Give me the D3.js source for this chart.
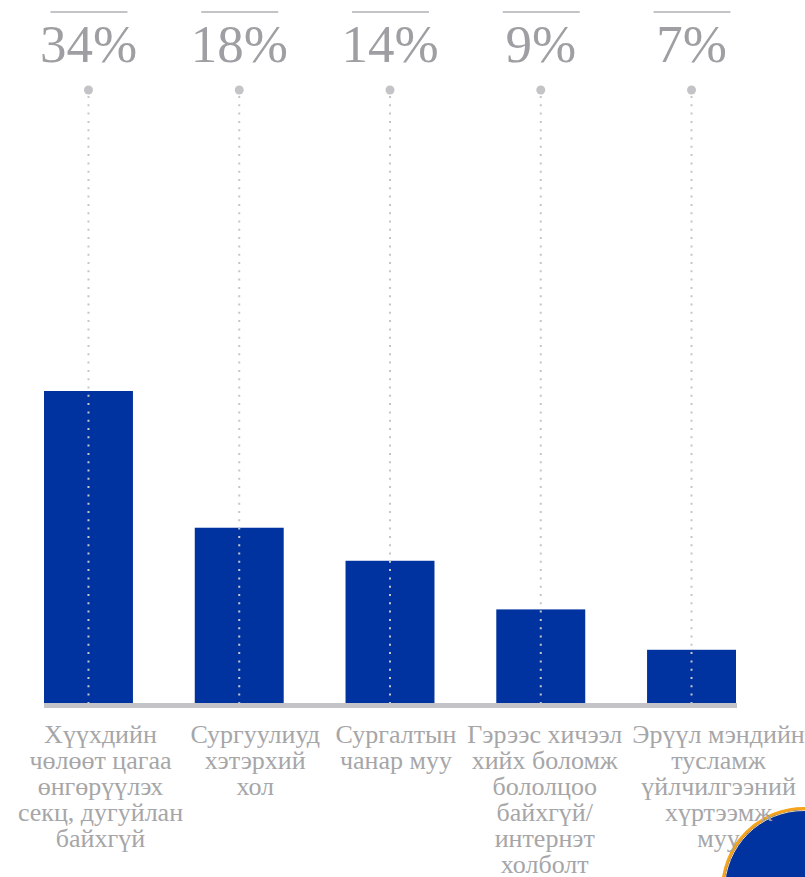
<!DOCTYPE html>
<html>
<head>
<meta charset="utf-8">
<script src="https://cdn.jsdelivr.net/npm/d3@7"></script>
<style>
   body { margin: 0; background: #fff; }
   svg { display: block; }
   .pct { font-family: "Liberation Serif", "Times New Roman", serif; fill: #9f9fa3; }
   .cat { font-family: "Liberation Serif", "Times New Roman", serif; fill: #a6a6a8; }
</style>
</head>
<body>
<div id="chart"></div>
<script>
// categories (line breaks as in the original labels)
const categories = [
   ['Хүүхдийн', 'чөлөөт цагаа', 'өнгөрүүлэх', 'секц, дугуйлан', 'байхгүй'],
   ['Сургуулиуд', 'хэтэрхий', 'хол'],
   ['Сургалтын', 'чанар муу'],
   ['Гэрээс хичээл', 'хийх боломж', 'бололцоо', 'байхгүй/', 'интернэт', 'холболт'],
   ['Эрүүл мэндийн', 'тусламж', 'үйлчилгээний', 'хүртээмж', 'муу']
];
// bar heights (percent)
const barValues = [34, 19.1, 15.5, 10.2, 5.8];
// printed labels above the columns
const pctLabels = ['34%', '18%', '14%', '9%', '7%'];

const width = 805;
const height = 877;
const baseY = 703;
const blue = '#0033a0';
const gray = '#c4c4c8';

// label centers are a bit off the bar centers in the original
const labelNudge = [12, 16, 6, 4, 27];

const keys = categories.map(c => c.join(' '));

const svg = d3.select('#chart').append('svg')
   .attr('width', width)
   .attr('height', height);

const x = d3.scaleBand()
   .domain(keys)
   .range([44, 736])
   .paddingInner(0.41)
   .paddingOuter(0);

const y = d3.scaleLinear()
   .domain([0, 34])
   .range([baseY, 391]);

// decorative circle in the corner
svg.append('circle')
   .attr('cx', 804)
   .attr('cy', 890)
   .attr('r', 81.5)
   .attr('fill', blue)
   .attr('stroke', '#f7a21b')
   .attr('stroke-width', 3);
svg.append('circle')
   .attr('cx', 804)
   .attr('cy', 890)
   .attr('r', 79.5)
   .attr('fill', 'none')
   .attr('stroke', '#f3d9a8')
   .attr('stroke-width', 1);

// bars
svg.append('g').selectAll('rect')
   .data(barValues)
   .enter()
   .append('rect')
      .attr('x', (d, i) => x(keys[i]))
      .attr('y', d => y(d))
      .attr('width', x.bandwidth())
      .attr('height', d => y(0) - y(d))
      .attr('fill', blue);

// baseline
svg.append('rect')
   .attr('x', x.range()[0])
   .attr('y', baseY)
   .attr('width', x.range()[1] - x.range()[0] + 1)
   .attr('height', 5)
   .attr('fill', gray);

const cols = svg.append('g').selectAll('g')
   .data(pctLabels)
   .enter()
   .append('g')
      .attr('transform', (d, i) => `translate(${x(keys[i]) + x.bandwidth() / 2},0)`);

// dotted leader lines
cols.append('line')
   .attr('y1', 96)
   .attr('y2', baseY)
   .attr('stroke', '#c6c6ca')
   .attr('stroke-width', 2)
   .attr('stroke-dasharray', '2,6.3');

cols.append('circle')
   .attr('cy', 90)
   .attr('r', 4.5)
   .attr('fill', '#c4c4c8');

// rule above the percentage
cols.append('rect')
   .attr('x', -38)
   .attr('y', 11)
   .attr('width', 77)
   .attr('height', 2)
   .attr('fill', '#c4c4c8');

cols.append('text')
   .attr('class', 'pct')
   .attr('y', 62)
   .attr('text-anchor', 'middle')
   .style('font-size', '53px')
   .text(d => d);

// category labels
const cats = svg.append('g').selectAll('text')
   .data(categories)
   .enter()
   .append('text')
      .attr('class', 'cat')
      .attr('text-anchor', 'middle')
      .style('font-size', '26px')
      .attr('transform', (d, i) => `translate(${x(keys[i]) + x.bandwidth() / 2 + labelNudge[i]},743)`);

cats.selectAll('tspan')
   .data(d => d)
   .enter()
   .append('tspan')
      .attr('x', 0)
      .attr('y', (d, i) => i * 26)
      .text(d => d);
</script>
</body>
</html>
